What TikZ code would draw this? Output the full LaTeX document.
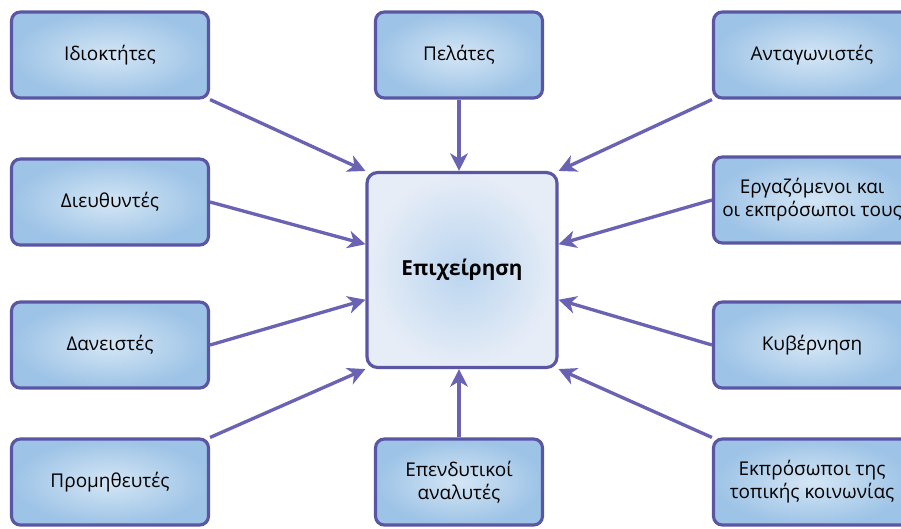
\documentclass[tikz,border=0pt]{standalone}
\usepackage{fontspec}
\setmainfont{Open Sans}
\usetikzlibrary{arrows.meta,calc}

\definecolor{rim}{HTML}{5B56A3}
\definecolor{link}{HTML}{6A62B2}
\definecolor{boxin}{HTML}{D4E6F5}
\definecolor{boxout}{HTML}{9DC3E6}
\definecolor{hubin}{HTML}{BAD5EF}
\definecolor{hubout}{HTML}{E7EDF7}

\tikzset{
  party/.style={draw=rim, line width=1.8pt, rounded corners=5pt,
    inner color=boxin, outer color=boxout,
    minimum width=3.94cm, minimum height=1.72cm, align=center,
    font=\fontsize{10.8}{13}\selectfont},
  midparty/.style={party, minimum width=3.34cm},
  hubbox/.style={draw=rim, line width=1.8pt, rounded corners=6pt,
    inner color=hubin, outer color=hubout,
    minimum width=3.8cm, minimum height=3.9cm,
    font=\fontsize{11.8}{14}\selectfont\bfseries},
  feed/.style={draw=link, line width=1.9pt,
    -{Stealth[length=10pt,width=10pt,inset=3pt]}}
}

\begin{document}
\begin{tikzpicture}[x=0.02cm, y=-0.02cm]
    \useasboundingbox (0,0) rectangle (901,528);
    \clip (0,0) rectangle (901,528);
    % Centre
    \node[hubbox] (hub) at (462,270) {Επιχείρηση};
    % Left column
    \node[party] (owners) at (110,55) {Ιδιοκτήτες};
    \node[party] (managers) at (110,202) {Διευθυντές};
    \node[party] (lenders) at (110,345) {Δανειστές};
    \node[party] (suppliers) at (110,482) {Προμηθευτές};
    % Middle column
    \node[midparty] (customers) at (459,55) {Πελάτες};
    \node[midparty] (analysts) at (459,482) {Επενδυτικοί\\αναλυτές};
    % Right column
    \node[party] (rivals) at (812,55) {Ανταγωνιστές};
    \node[party] (staff) at (812,200) {Εργαζόμενοι και\\οι εκπρόσωποι τους};
    \node[party] (state) at (812,345) {Κυβέρνηση};
    \node[party] (locals) at (812,482) {Εκπρόσωποι της\\τοπικής κοινωνίας};
    % Arrows
    \draw[feed] (owners.south east) -- (hub.north west);
    \draw[feed] (managers.east) -- ($(hub.north west)!.37!(hub.south west)$);
    \draw[feed] (lenders.east) -- ($(hub.north west)!.65!(hub.south west)$);
    \draw[feed] (suppliers.north east) -- (hub.south west);
    \draw[feed] (customers.south) -- (customers.south |- hub.north);
    \draw[feed] (analysts.north) -- (analysts.north |- hub.south);
    \draw[feed] (rivals.south west) -- (hub.north east);
    \draw[feed] (staff.west) -- ($(hub.north east)!.37!(hub.south east)$);
    \draw[feed] (state.west) -- ($(hub.north east)!.65!(hub.south east)$);
    \draw[feed] (locals.north west) -- (hub.south east);
\end{tikzpicture}
\end{document}
